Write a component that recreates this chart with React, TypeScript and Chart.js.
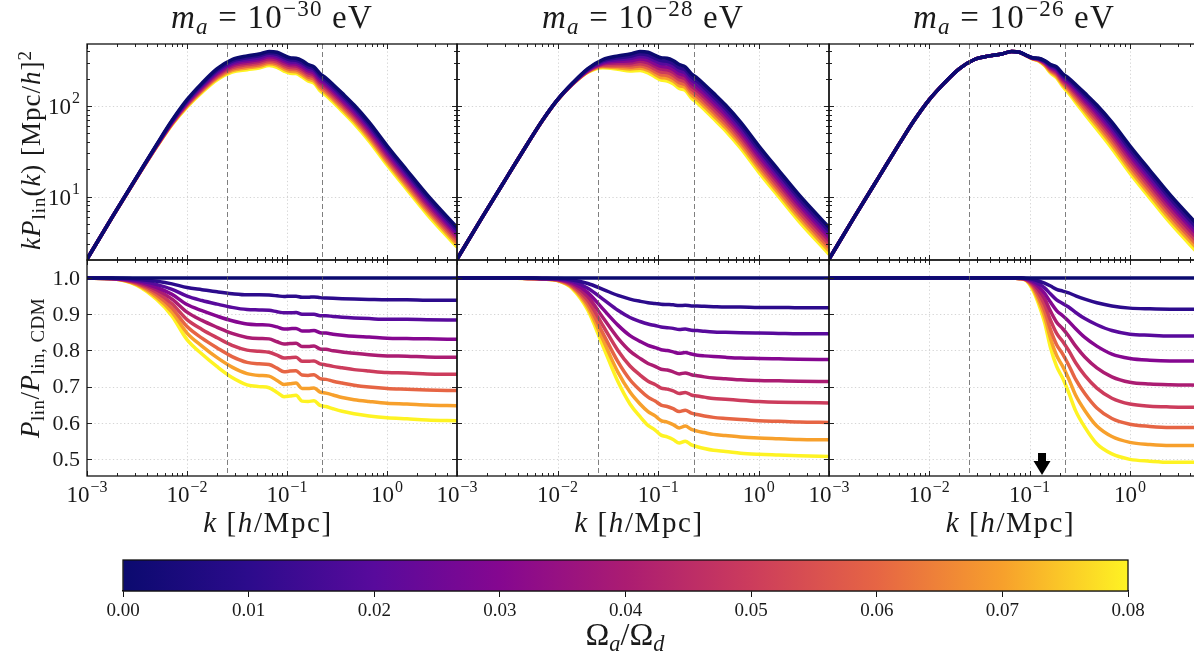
import { useEffect, useRef } from "react";
import { Chart, registerables } from "chart.js";

Chart.register(...registerables);

// ---- data -----------------------------------------------------------------

// wavenumbers k [h/Mpc]
const K = [
  0.001, 0.00178, 0.00316, 0.00501, 0.00708, 0.01, 0.0141, 0.02, 0.0282, 0.0398,
  0.0525, 0.0661, 0.0794, 0.0933, 0.107, 0.123, 0.141, 0.162, 0.186, 0.214,
  0.245, 0.288, 0.355, 0.468, 0.661, 1.0, 1.58, 2.51, 5.0,
];

// k P_lin(k) of the pure CDM model [(Mpc/h)^2]
const KP_CDM = [
  2.04, 5.89, 16.6, 38.0, 69.2, 117, 178, 257, 324, 355,
  372, 398, 389, 359, 339, 335, 316, 285, 269, 226,
  202, 172, 138, 102, 66.1, 36.3, 19.5, 10.5, 4.57,
];

// axion fraction of each curve (also the colour bar range)
const OMEGA_RATIO = [0, 0.01, 0.02, 0.03, 0.04, 0.05, 0.06, 0.07, 0.08];
const LINE_COLORS = [
  "#0b0a6f", "#2c0b8c", "#580a9c", "#850790", "#ab1c72",
  "#cc3c5c", "#e66544", "#f7a02c", "#fef323",
];

const MASS_EXPONENTS = ["−30", "−28", "−26"];

// P_lin / P_lin,CDM
const RATIO_CDM = [
  1, 1, 1, 1, 1, 1, 1, 1, 1, 1, 1, 1, 1, 1, 1, 1, 1, 1, 1, 1, 1, 1, 1, 1, 1, 1, 1, 1, 1,
];

// m_a = 1e-30 eV, Omega_a/Omega_d = 0.01 ... 0.08
const RATIO_M30 = [
  [1, 1.0, 0.997, 0.991, 0.984, 0.974, 0.968, 0.962, 0.957, 0.954, 0.954, 0.953, 0.951, 0.949, 0.95, 0.95, 0.947, 0.947, 0.948, 0.946, 0.945, 0.944, 0.943, 0.942, 0.941, 0.94, 0.94, 0.939, 0.939],
  [1, 0.999, 0.994, 0.982, 0.969, 0.95, 0.938, 0.928, 0.919, 0.913, 0.912, 0.911, 0.907, 0.904, 0.904, 0.905, 0.9, 0.9, 0.9, 0.896, 0.896, 0.894, 0.892, 0.89, 0.888, 0.886, 0.886, 0.885, 0.884],
  [1, 0.999, 0.991, 0.974, 0.955, 0.927, 0.91, 0.895, 0.882, 0.873, 0.871, 0.87, 0.865, 0.859, 0.86, 0.861, 0.854, 0.854, 0.855, 0.849, 0.848, 0.845, 0.842, 0.839, 0.837, 0.834, 0.833, 0.832, 0.831],
  [1, 0.999, 0.989, 0.967, 0.942, 0.906, 0.883, 0.864, 0.847, 0.836, 0.833, 0.832, 0.824, 0.818, 0.819, 0.82, 0.811, 0.811, 0.812, 0.804, 0.803, 0.799, 0.796, 0.792, 0.788, 0.785, 0.784, 0.782, 0.781],
  [1, 0.999, 0.986, 0.96, 0.929, 0.885, 0.858, 0.835, 0.814, 0.801, 0.798, 0.795, 0.787, 0.779, 0.78, 0.781, 0.77, 0.77, 0.771, 0.763, 0.76, 0.756, 0.752, 0.747, 0.743, 0.739, 0.738, 0.735, 0.734],
  [1, 0.998, 0.984, 0.953, 0.917, 0.866, 0.834, 0.807, 0.783, 0.767, 0.763, 0.761, 0.751, 0.741, 0.743, 0.744, 0.732, 0.731, 0.733, 0.722, 0.72, 0.715, 0.71, 0.704, 0.699, 0.695, 0.693, 0.691, 0.689],
  [1, 0.998, 0.982, 0.946, 0.906, 0.848, 0.812, 0.78, 0.754, 0.736, 0.731, 0.729, 0.717, 0.706, 0.708, 0.71, 0.695, 0.695, 0.696, 0.685, 0.682, 0.677, 0.67, 0.664, 0.659, 0.654, 0.652, 0.649, 0.647],
  [1, 0.998, 0.98, 0.94, 0.895, 0.83, 0.79, 0.755, 0.725, 0.705, 0.7, 0.697, 0.684, 0.672, 0.674, 0.676, 0.66, 0.659, 0.661, 0.648, 0.645, 0.639, 0.632, 0.625, 0.619, 0.614, 0.611, 0.608, 0.606],
];

// m_a = 1e-28 eV
const RATIO_M28 = [
  [1, 1, 1, 1.0, 0.999, 0.999, 0.995, 0.985, 0.969, 0.952, 0.942, 0.936, 0.932, 0.93, 0.928, 0.927, 0.926, 0.924, 0.925, 0.923, 0.923, 0.922, 0.921, 0.92, 0.92, 0.919, 0.919, 0.918, 0.918],
  [1, 1, 1, 1.0, 0.999, 0.998, 0.991, 0.972, 0.942, 0.911, 0.891, 0.88, 0.873, 0.869, 0.865, 0.863, 0.861, 0.858, 0.859, 0.856, 0.855, 0.853, 0.851, 0.85, 0.849, 0.848, 0.847, 0.846, 0.846],
  [1, 1, 1, 1.0, 0.999, 0.997, 0.987, 0.96, 0.915, 0.87, 0.841, 0.825, 0.814, 0.808, 0.802, 0.8, 0.796, 0.792, 0.794, 0.79, 0.787, 0.785, 0.783, 0.781, 0.779, 0.778, 0.777, 0.776, 0.775],
  [1, 1, 1, 0.999, 0.998, 0.996, 0.983, 0.949, 0.891, 0.834, 0.798, 0.778, 0.764, 0.756, 0.748, 0.746, 0.741, 0.735, 0.738, 0.733, 0.73, 0.727, 0.724, 0.722, 0.719, 0.717, 0.716, 0.715, 0.714],
  [1, 1, 1, 0.999, 0.998, 0.995, 0.979, 0.938, 0.869, 0.8, 0.757, 0.732, 0.715, 0.706, 0.696, 0.693, 0.688, 0.681, 0.684, 0.677, 0.674, 0.671, 0.667, 0.665, 0.662, 0.659, 0.657, 0.656, 0.655],
  [1, 1, 1, 0.999, 0.998, 0.994, 0.976, 0.928, 0.848, 0.769, 0.719, 0.69, 0.671, 0.66, 0.649, 0.645, 0.639, 0.631, 0.635, 0.627, 0.623, 0.619, 0.615, 0.612, 0.609, 0.606, 0.604, 0.602, 0.601],
  [1, 1, 1, 0.999, 0.997, 0.993, 0.973, 0.919, 0.83, 0.74, 0.685, 0.652, 0.631, 0.619, 0.606, 0.602, 0.595, 0.586, 0.591, 0.582, 0.577, 0.573, 0.568, 0.565, 0.561, 0.558, 0.556, 0.554, 0.553],
  [1, 1, 1, 0.999, 0.997, 0.993, 0.97, 0.911, 0.813, 0.714, 0.652, 0.617, 0.593, 0.58, 0.566, 0.561, 0.554, 0.544, 0.549, 0.539, 0.534, 0.529, 0.524, 0.521, 0.516, 0.513, 0.511, 0.509, 0.507],
];

// m_a = 1e-26 eV
const RATIO_M26 = [
  [1, 1, 1, 1, 1, 1, 1, 1, 1, 1, 1, 1, 1.0, 0.999, 0.997, 0.992, 0.986, 0.978, 0.969, 0.964, 0.959, 0.951, 0.942, 0.932, 0.923, 0.917, 0.915, 0.914, 0.914],
  [1, 1, 1, 1, 1, 1, 1, 1, 1, 1, 1, 1, 1.0, 0.998, 0.993, 0.984, 0.973, 0.956, 0.94, 0.93, 0.92, 0.905, 0.888, 0.871, 0.855, 0.845, 0.842, 0.84, 0.84],
  [1, 1, 1, 1, 1, 1, 1, 1, 1, 1, 1, 1, 1.0, 0.997, 0.989, 0.976, 0.958, 0.933, 0.91, 0.896, 0.881, 0.86, 0.836, 0.812, 0.79, 0.778, 0.773, 0.771, 0.771],
  [1, 1, 1, 1, 1, 1, 1, 1, 1, 1, 1, 1, 0.999, 0.996, 0.986, 0.967, 0.943, 0.908, 0.878, 0.86, 0.84, 0.812, 0.782, 0.752, 0.727, 0.712, 0.707, 0.705, 0.704],
  [1, 1, 1, 1, 1, 1, 1, 1, 1, 1, 1, 1, 0.999, 0.995, 0.982, 0.958, 0.927, 0.883, 0.847, 0.825, 0.8, 0.766, 0.731, 0.696, 0.668, 0.652, 0.646, 0.644, 0.643],
  [1, 1, 1, 1, 1, 1, 1, 1, 1, 1, 1, 1, 0.999, 0.994, 0.978, 0.948, 0.91, 0.857, 0.816, 0.79, 0.76, 0.72, 0.681, 0.641, 0.612, 0.596, 0.59, 0.587, 0.587],
  [1, 1, 1, 1, 1, 1, 1, 1, 1, 1, 1, 1, 0.999, 0.994, 0.974, 0.938, 0.894, 0.832, 0.786, 0.756, 0.722, 0.676, 0.634, 0.591, 0.562, 0.546, 0.54, 0.537, 0.537],
  [1, 1, 1, 1, 1, 1, 1, 1, 1, 1, 1, 1, 0.998, 0.992, 0.969, 0.929, 0.878, 0.807, 0.756, 0.723, 0.684, 0.633, 0.588, 0.542, 0.514, 0.499, 0.494, 0.491, 0.491],
];

const PANEL_RATIOS = [RATIO_M30, RATIO_M28, RATIO_M26];

// reference scales marked by dashed lines, and the arrowed scale
const K_MARKERS = [0.025, 0.225];
const ARROW_K = 0.133;

// axes
const X_MIN = 0.001;
const X_MAX = 5;
const X_TICKS = [0.001, 0.01, 0.1, 1];
const X_TICK_EXP = ["−3", "−2", "−1", "0"];
const X_DECADES = [0.001, 0.01, 0.1, 1];
const LOG_MANTISSAS = [2, 3, 4, 5, 6, 7, 8, 9];
const TOP_Y_MIN = 2.0;
const TOP_Y_MAX = 480;
const TOP_Y_TICKS = [10, 100];
const TOP_Y_TICK_EXP = ["1", "2"];
const TOP_Y_DECADES = [1, 10, 100];
const BOT_Y_MIN = 0.453;
const BOT_Y_MAX = 1.05;
const BOT_Y_TICKS = [0.5, 0.6, 0.7, 0.8, 0.9, 1.0];

// ---- layout ---------------------------------------------------------------

const FONT = '"Liberation Serif", "Times New Roman", serif';
const CW = 1210;
const CH = 655;
const COL_LEFT = [87, 457, 829];
const COL_RIGHT = [457, 829, 1200];
const ROW_TOP = [44, 260];
const ROW_H = 216;
const TEXT = "#1a1a1a";

function minorTicks(decades: number[], lo: number, hi: number) {
  const out: number[] = [];
  for (const d of decades) for (const m of LOG_MANTISSAS) {
    const v = d * m;
    if (v > lo && v < hi) out.push(v);
  }
  return out;
}

function drawPow(ctx: CanvasRenderingContext2D, exp: string, x: number, base: number, align: "center" | "right", size: number) {
  const big = `${size}px ${FONT}`;
  const small = `${Math.round(size * 0.7)}px ${FONT}`;
  ctx.font = big;
  const w1 = ctx.measureText("10").width;
  ctx.font = small;
  const w2 = ctx.measureText(exp).width;
  const total = w1 + 1 + w2;
  const x0 = align === "center" ? x - total / 2 : x - total;
  ctx.textAlign = "left";
  ctx.textBaseline = "alphabetic";
  ctx.fillStyle = TEXT;
  ctx.font = big;
  ctx.fillText("10", x0, base);
  ctx.font = small;
  ctx.fillText(exp, x0 + w1 + 1, base - size * 0.45);
}

function makePanelPlugin(row: number, col: number) {
  return {
    id: `panelDeco${row}${col}`,
    beforeDatasetsDraw(chart: any) {
      const { ctx, chartArea: a } = chart;
      const xs = chart.scales.x;
      const ys = chart.scales.y;
      ctx.save();
      ctx.strokeStyle = "#d0d0d0";
      ctx.lineWidth = 0.9;
      ctx.setLineDash([1.3, 2.4]);
      ctx.beginPath();
      for (const v of X_TICKS) {
        const px = Math.round(xs.getPixelForValue(v)) + 0.5;
        if (px <= a.left + 1 || px >= a.right - 1) continue;
        ctx.moveTo(px, a.top);
        ctx.lineTo(px, a.bottom);
      }
      const yMaj = row === 0 ? TOP_Y_TICKS : BOT_Y_TICKS;
      for (const v of yMaj) {
        const py = Math.round(ys.getPixelForValue(v)) + 0.5;
        if (py <= a.top + 1 || py >= a.bottom - 1) continue;
        ctx.moveTo(a.left, py);
        ctx.lineTo(a.right, py);
      }
      ctx.stroke();
      ctx.restore();
    },
    afterDatasetsDraw(chart: any) {
      const { ctx, chartArea: a } = chart;
      const xs = chart.scales.x;
      const ys = chart.scales.y;
      ctx.save();

      // dashed reference scales
      ctx.strokeStyle = "rgba(95,95,95,0.8)";
      ctx.lineWidth = 1;
      ctx.setLineDash([5, 3]);
      ctx.beginPath();
      for (const v of K_MARKERS) {
        const px = Math.round(xs.getPixelForValue(v)) + 0.5;
        ctx.moveTo(px, a.top);
        ctx.lineTo(px, a.bottom);
      }
      ctx.stroke();
      ctx.setLineDash([]);

      // tick marks, pointing inwards on all four sides
      ctx.strokeStyle = "#222";
      ctx.lineWidth = 1;
      ctx.beginPath();
      const xTick = (v: number, len: number) => {
        const px = Math.round(xs.getPixelForValue(v)) + 0.5;
        ctx.moveTo(px, a.bottom);
        ctx.lineTo(px, a.bottom - len);
        ctx.moveTo(px, a.top);
        ctx.lineTo(px, a.top + len);
      };
      const yTick = (v: number, len: number) => {
        const py = Math.round(ys.getPixelForValue(v)) + 0.5;
        ctx.moveTo(a.left, py);
        ctx.lineTo(a.left + len, py);
        ctx.moveTo(a.right, py);
        ctx.lineTo(a.right - len, py);
      };
      X_TICKS.forEach((v) => xTick(v, 5));
      minorTicks(X_DECADES, X_MIN, X_MAX * 1.0001).forEach((v) => xTick(v, 3));
      if (row === 0) {
        TOP_Y_TICKS.forEach((v) => yTick(v, 5));
        minorTicks(TOP_Y_DECADES, TOP_Y_MIN, TOP_Y_MAX).forEach((v) => yTick(v, 3));
      } else {
        BOT_Y_TICKS.forEach((v) => yTick(v, 5));
      }
      ctx.stroke();

      // frame
      ctx.strokeStyle = "#111";
      ctx.lineWidth = 1.3;
      ctx.strokeRect(a.left, a.top, a.right - a.left, a.bottom - a.top);

      // tick labels
      if (col === 0) {
        if (row === 0) {
          TOP_Y_TICKS.forEach((v, i) => drawPow(ctx, TOP_Y_TICK_EXP[i], a.left - 7, ys.getPixelForValue(v) + 8, "right", 23));
        } else {
          ctx.fillStyle = TEXT;
          ctx.font = `22px ${FONT}`;
          ctx.textAlign = "right";
          ctx.textBaseline = "middle";
          BOT_Y_TICKS.forEach((v) => ctx.fillText(v.toFixed(1), a.left - 7, ys.getPixelForValue(v) + 1));
        }
      }
      if (row === 1) {
        X_TICKS.forEach((v, i) => drawPow(ctx, X_TICK_EXP[i], xs.getPixelForValue(v), a.bottom + 26, "center", 23));
      }

      // arrow marking the characteristic scale
      if (row === 1 && col === 2) {
        const px = xs.getPixelForValue(ARROW_K);
        const tip = a.bottom - 1;
        ctx.fillStyle = "#000";
        ctx.fillRect(px - 4, tip - 22, 8, 9);
        ctx.beginPath();
        ctx.moveTo(px - 8.5, tip - 14);
        ctx.lineTo(px + 8.5, tip - 14);
        ctx.lineTo(px, tip);
        ctx.closePath();
        ctx.fill();
      }
      ctx.restore();
    },
  };
}

const frameCb = {
  id: "colorbarFrame",
  afterDatasetsDraw(chart: any) {
    const { ctx, chartArea: a } = chart;
    ctx.save();
    ctx.strokeStyle = "#111";
    ctx.lineWidth = 1.3;
    ctx.strokeRect(a.left, a.top, a.right - a.left, a.bottom - a.top);
    ctx.restore();
  },
};

const sub = (t: string, italic = false) => (
  <span style={{ fontSize: "0.7em", position: "relative", top: "0.28em", fontStyle: italic ? "italic" : "normal" }}>{t}</span>
);
const sup = (t: string) => (
  <span style={{ fontSize: "0.7em", position: "relative", top: "-0.5em" }}>{t}</span>
);

export default function App() {
  const panelRefs = useRef<(HTMLCanvasElement | null)[]>([]);
  const cbRef = useRef<HTMLCanvasElement | null>(null);

  useEffect(() => {
    const charts: Chart[] = [];
    for (let row = 0; row < 2; row++) {
      for (let col = 0; col < 3; col++) {
        const canvas = panelRefs.current[row * 3 + col];
        if (!canvas) continue;
        const ratios = [RATIO_CDM, ...PANEL_RATIOS[col]];
        const datasets = ratios.map((r, i) => ({
          label: `Ωa/Ωd = ${OMEGA_RATIO[i].toFixed(2)}`,
          data: K.map((k, j) => ({ x: k, y: row === 0 ? KP_CDM[j] * r[j] : r[j] })),
          borderColor: LINE_COLORS[i],
          backgroundColor: LINE_COLORS[i],
          borderWidth: 3.5,
          pointRadius: 0,
          fill: false,
          cubicInterpolationMode: "monotone" as const,
          clip: 0,
        }));
        const left = COL_LEFT[col];
        const right = COL_RIGHT[col];
        const top = ROW_TOP[row];
        charts.push(
          new Chart(canvas, {
            type: "line",
            data: { datasets },
            options: {
              animation: false,
              responsive: false,
              maintainAspectRatio: false,
              events: [],
              layout: { padding: { left, right: CW - right, top, bottom: CH - (top + ROW_H) } },
              plugins: { legend: { display: false }, tooltip: { enabled: false } },
              scales: {
                x: { type: "logarithmic", min: X_MIN, max: X_MAX, display: false },
                y: row === 0
                  ? { type: "logarithmic", min: TOP_Y_MIN, max: TOP_Y_MAX, display: false }
                  : { type: "linear", min: BOT_Y_MIN, max: BOT_Y_MAX, display: false },
              },
            },
            plugins: [makePanelPlugin(row, col)],
          } as any)
        );
      }
    }

    if (cbRef.current) {
      charts.push(
        new Chart(cbRef.current, {
          type: "bar",
          data: {
            labels: ["Ωa/Ωd"],
            datasets: [
              {
                data: [[OMEGA_RATIO[0], OMEGA_RATIO[OMEGA_RATIO.length - 1]]],
                backgroundColor: (c: any) => {
                  const ch = c.chart;
                  const a = ch.chartArea;
                  if (!a) return LINE_COLORS[0];
                  const g = ch.ctx.createLinearGradient(a.left, 0, a.right, 0);
                  LINE_COLORS.forEach((col, i) => g.addColorStop(i / (LINE_COLORS.length - 1), col));
                  return g;
                },
                borderWidth: 0,
                barPercentage: 1,
                categoryPercentage: 1,
              },
            ],
          },
          options: {
            indexAxis: "y",
            animation: false,
            responsive: false,
            maintainAspectRatio: false,
            events: [],
            layout: { padding: { left: 123, right: CW - 1128, top: 20, bottom: 19 } },
            plugins: { legend: { display: false }, tooltip: { enabled: false } },
            scales: {
              x: {
                type: "linear",
                min: OMEGA_RATIO[0],
                max: OMEGA_RATIO[OMEGA_RATIO.length - 1],
                position: "bottom",
                afterFit: (s: any) => {
                  s.height = 45;
                },
                grid: { drawOnChartArea: false, drawTicks: true, tickLength: 6, color: "#111", lineWidth: 1 },
                border: { display: true, color: "#111", width: 1.3 },
                ticks: {
                  stepSize: 0.01,
                  autoSkip: false,
                  maxRotation: 0,
                  padding: 3,
                  color: TEXT,
                  font: { family: FONT, size: 19 },
                  callback: (v: any) => Number(v).toFixed(2),
                },
              },
              y: { display: false },
            },
          },
          plugins: [frameCb],
        } as any)
      );
    }
    return () => charts.forEach((c) => c.destroy());
  }, []);

  const abs = { position: "absolute" as const, whiteSpace: "nowrap" as const, color: TEXT, fontFamily: FONT };

  return (
    <div style={{ position: "absolute", left: 0, top: 0, width: 1194, height: 655, overflow: "hidden", background: "#fff" }}>
      {[0, 1, 2, 3, 4, 5].map((i) => (
        <canvas
          key={i}
          ref={(el) => {
            panelRefs.current[i] = el;
          }}
          width={CW}
          height={CH}
          style={{ position: "absolute", left: 0, top: 0, width: CW, height: CH }}
        />
      ))}
      <canvas ref={cbRef} width={CW} height={115} style={{ position: "absolute", left: 0, top: 540, width: CW, height: 115 }} />

      {MASS_EXPONENTS.map((e, c) => (
        <div key={`t${c}`} style={{ ...abs, left: (COL_LEFT[c] + Math.min(COL_RIGHT[c], 1199)) / 2, top: 0, transform: "translateX(-50%)", fontSize: 33, lineHeight: "35px", letterSpacing: 1.2 }}>
          <i>m</i>
          {sub("a", true)} = 10{sup(e)} eV
        </div>
      ))}

      {MASS_EXPONENTS.map((e, c) => (
        <div key={`x${c}`} style={{ ...abs, left: (COL_LEFT[c] + COL_RIGHT[c]) / 2 - 4, top: 506, transform: "translateX(-50%)", fontSize: 29, lineHeight: "32px", letterSpacing: 1.6 }}>
          <i>k</i> [<i>h</i>/Mpc]
        </div>
      ))}

      <div style={{ ...abs, left: 32, top: 150, transform: "translate(-50%, -50%) rotate(-90deg)", fontSize: 27, lineHeight: "30px", letterSpacing: 1 }}>
        <i>kP</i>
        {sub("lin")}(<i>k</i>) [Mpc/<i>h</i>]{sup("2")}
      </div>
      <div style={{ ...abs, left: 31, top: 368, transform: "translate(-50%, -50%) rotate(-90deg)", fontSize: 27, lineHeight: "30px", letterSpacing: 0.5 }}>
        <i>P</i>
        {sub("lin")}/<i>P</i>
        {sub("lin, CDM")}
      </div>

      <div style={{ ...abs, left: 625, top: 617, transform: "translateX(-50%)", fontSize: 32, lineHeight: "34px" }}>
        Ω{sub("a", true)}/Ω{sub("d", true)}
      </div>
    </div>
  );
}
